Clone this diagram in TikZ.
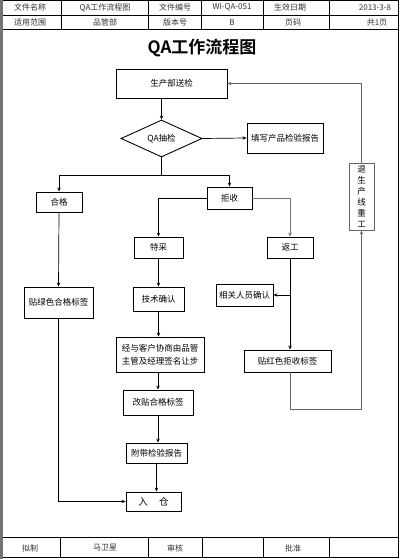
\documentclass[tikz,border=0pt]{standalone}
\usepackage{fontspec}
\setmainfont{Noto Sans CJK SC}
\newfontfamily\titlefont{Noto Sans CJK SC Bold}
\usetikzlibrary{shapes.geometric,arrows.meta,calc}
\begin{document}
\begin{tikzpicture}[x=1pt,y=-1pt,
  box/.style={draw,line width=0.9pt,inner sep=0pt,font=\fontsize{8.5}{10}\selectfont,align=center},
  arr/.style={line width=0.7pt,-{Stealth[length=4pt,width=3.4pt]}},
  ln/.style={line width=0.7pt},
  cell/.style={font=\fontsize{8}{9}\selectfont,inner sep=0pt,text=black!80}]
\useasboundingbox (0,0) rectangle (400,559);
% page frame
\fill[black!55] (0,0) rectangle (3,559);
\draw[line width=0.8pt] (3,0.5) -- (398.5,0.5) -- (398.5,557.5) -- (3,557.5);
% header table
\draw[line width=0.7pt] (3,15) -- (398.5,15);
\draw[line width=0.7pt] (3,29.5) -- (398.5,29.5);
\foreach \x in {61,148,201,263,329} \draw[line width=0.7pt] (\x,0.5) -- (\x,29.5);
\node[cell] (h1) at (30,7.5) {文件名称};
\node[cell] (h2) at (105,7.5) {QA工作流程图};
\node[cell] (h3) at (175,7.5) {文件编号};
\node[cell] (h4) at (232,7.5) {WI-QA-051};
\node[cell] (h5) at (290,7.5) {生效日期};
\node[cell] (h6) at (375,7.5) {2013-3-8};
\node[cell] (r1) at (30,22.5) {适用范围};
\node[cell] (r2) at (105,22.5) {品管部};
\node[cell] (r3) at (175,22.5) {版本号};
\node[cell] (r4) at (232,22.5) {B};
\node[cell] (r5) at (293,22.5) {页码};
\node[cell] (r6) at (377,22.5) {共1页};
% footer table
\draw[line width=0.7pt] (3,537) -- (398.5,537);
\foreach \x in {60,148,202,263,329} \draw[line width=0.7pt] (\x,537) -- (\x,557.5);
\node[cell] (f1) at (30,548) {拟制};
\node[cell] (f2) at (105,548) {马卫星};
\node[cell] (f3) at (175,548) {审核};
\node[cell] (f4) at (293,548) {批准};
% title
\node[inner sep=0pt,font=\titlefont\fontsize{17}{20}\selectfont] (title) at (202,48) {QA工作流程图};
% flow nodes
\node[box,minimum width=111pt,minimum height=29pt] (top) at (171.5,83.5) {生产部送检};
\node[box,shape=diamond,aspect=2.2,minimum width=81pt,minimum height=37pt] (dia) at (161.5,138.5) {QA抽检};
\node[box,minimum width=76pt,minimum height=30pt] (rep) at (285,138) {填写产品检验报告};
\node[box,minimum width=46pt,minimum height=20pt] (hege) at (59,202) {合格};
\node[box,minimum width=45pt,minimum height=22pt] (jushou) at (229.5,198) {拒收};
\node[box,minimum width=49pt,minimum height=21pt] (tecai) at (158.5,247.5) {特采};
\node[box,minimum width=46pt,minimum height=21pt] (fangong) at (290,247.5) {返工};
\node[box,minimum width=51pt,minimum height=24pt] (jishu) at (158.5,299) {技术确认};
\node[box,minimum width=57pt,minimum height=22pt] (xg) at (244.5,295) {相关人员确认};
\node[box,minimum width=69pt,minimum height=31pt] (green) at (58.5,302.5) {贴绿色合格标签};
\node[box,minimum width=87pt,minimum height=22pt] (red) at (287.5,361) {贴红色拒收标签};
\node[box,minimum width=88pt,minimum height=35pt,font=\fontsize{8.5}{13}\selectfont] (negot) at (160,354.5) {经与客户协商由品管\\主管及经理签名让步};
\node[box,minimum width=70pt,minimum height=25pt] (gaitie) at (158,402.5) {改贴合格标签};
\node[box,minimum width=61pt,minimum height=20pt] (fudai) at (156.5,453) {附带检验报告};
\node[box,minimum width=55pt,minimum height=19pt,font=\fontsize{9.5}{11}\selectfont] (ruc) at (153.5,501.5) {入\hspace{1.2em}仓};
\node[box,draw=black!60,minimum width=25pt,minimum height=67pt,font=\fontsize{8.5}{11}\selectfont] (back) at (361.5,196.5) {退\\生\\产\\线\\重\\工};
% connectors
\coordinate (split) at (161.5,175);
\coordinate (lp) at (290,409);
\draw[arr] (dia.north |- top.south) -- (dia.north);
\draw[arr] (dia.east) -- (rep.west);
\draw[ln] (dia.south) -- (split);
\draw[arr] (split) -| (hege.north);
\draw[arr] (split) -| (jushou.north);
\draw[arr] (jushou.west) -| (tecai.north);
\draw[arr,draw=black!55] (jushou.east) -| (fangong.north);
\draw[arr] (hege.south) -- (green.north);
\draw[arr] (tecai.south) -- (jishu.north);
\draw[arr] (jishu.south) -- (jishu.south |- negot.north);
\draw[arr] (gaitie.north |- negot.south) -- (gaitie.north);
\draw[arr] (gaitie.south) -- (gaitie.south |- fudai.north);
\draw[arr] (fudai.south) -- (fudai.south |- ruc.north);
\draw[arr] (green.south) |- (ruc.west);
\draw[arr] (fangong.south) -- (fangong.south |- red.north);
\draw[arr] (fangong.south |- xg.east) -- (xg.east);
\draw[arr,draw=black!60] (red.south -| lp) -- (lp) -| (back.south);
\draw[arr,draw=black!60] (back.north) |- (top.east);
\end{tikzpicture}
\end{document}
